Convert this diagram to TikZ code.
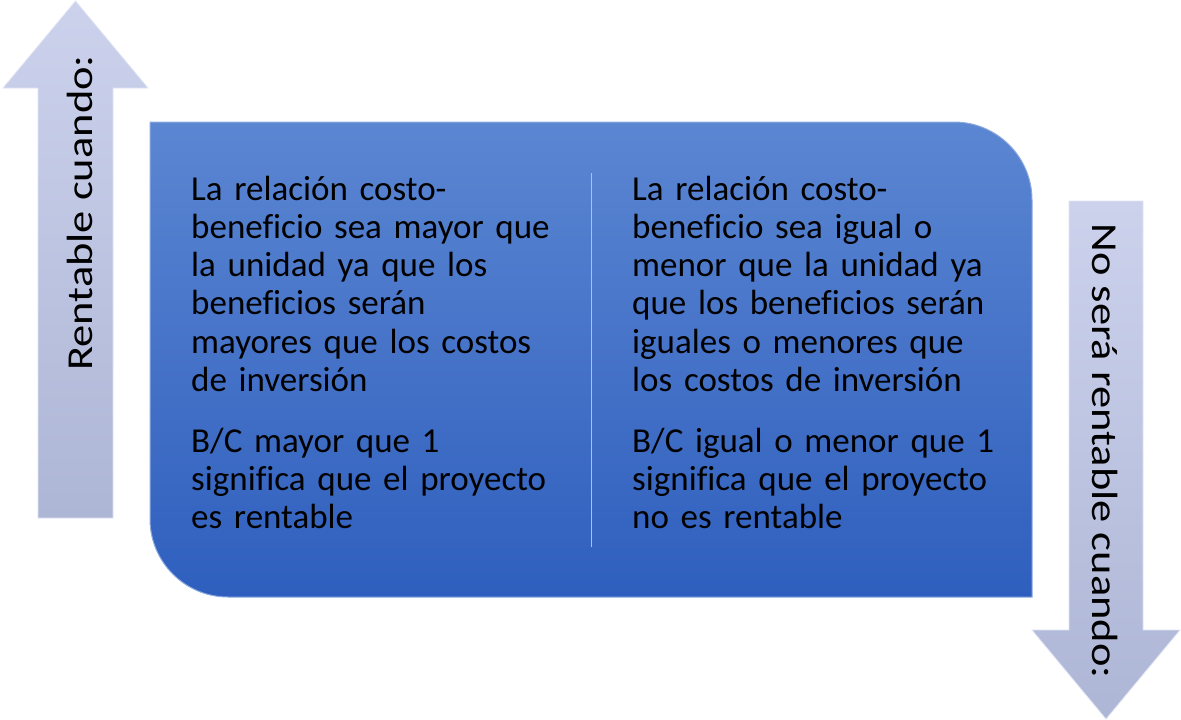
\documentclass[tikz,border=0pt]{standalone}
\usepackage{fontspec}
\setmainfont[Ligatures=NoCommon]{Carlito}
\definecolor{boxtop}{HTML}{5B86D2}
\definecolor{boxbot}{HTML}{2F5FBE}
\definecolor{arrtop}{HTML}{CCD2EC}
\definecolor{arrbot}{HTML}{AEB6D6}
\definecolor{divline}{HTML}{A9C1EE}
\tikzset{
  arrowshape/.style={top color=arrtop, bottom color=arrbot, draw=arrtop!60!white, line width=0.8pt},
  coltext/.style={anchor=base west, text width=420pt, align=left, inner sep=0pt, text=black,
    font=\fontsize{35}{38.3}\selectfont},
  sidetext/.style={anchor=base, inner sep=0pt, text=black, font=\fontsize{44.5}{48}\selectfont}
}
\begin{document}
\begin{tikzpicture}[x=1pt,y=-1pt]
\useasboundingbox (0,0) rectangle (1181,720);
% up arrow
\path[arrowshape] (75.5,1) -- (148,88) -- (113,88) -- (113,518) -- (38,518) -- (38,88) -- (3,88) -- cycle;
% down arrow
\path[arrowshape] (1069,201) -- (1143,201) -- (1143,630) -- (1180,630) -- (1106,719) -- (1032,630) -- (1069,630) -- cycle;
% main box
\path[top color=boxtop, bottom color=boxbot, draw=boxtop!70!white, line width=1pt]
  (150,122) -- (954,122) .. controls (997,122) and (1032,157) .. (1032,200)
  -- (1032,597) -- (228,597) .. controls (185,597) and (150,562) .. (150,519) -- cycle;
% divider
\coordinate (dtop) at (591,173);
\coordinate (dbot) at (591,547);
\draw[divline, line width=1pt] (dtop) -- (dbot);
% texts
\node[coltext] (l1) at (191,200) {La relación costo-\\beneficio sea mayor que\\la unidad ya que los\\beneficios serán\\mayores que los costos\\de inversión};
\node[coltext] (l2) at (191,452) {B/C mayor que 1\\significa que el proyecto\\es rentable};
\node[coltext] (r1) at (632,200) {La relación costo-\\beneficio sea igual o\\menor que la unidad ya\\que los beneficios serán\\iguales o menores que\\los costos de inversión};
\node[coltext] (r2) at (632,452) {B/C igual o menor que 1\\significa que el proyecto\\no es rentable};
\node[sidetext, rotate=90] (up) at (92.5,213) {\scalebox{1}[0.82]{Rentable cuando:}};
\node[sidetext, rotate=-90] (down) at (1092,451) {\scalebox{1}[0.82]{No será rentable cuando:}};
\end{tikzpicture}
\end{document}
